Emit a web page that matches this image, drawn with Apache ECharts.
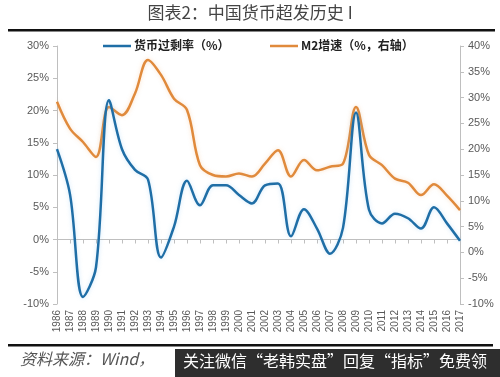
<!DOCTYPE html>
<html><head><meta charset="utf-8">
<script src="https://cdn.jsdelivr.net/npm/echarts@6/dist/echarts.min.js"></script>
<style>html,body{margin:0;padding:0;background:#fff}#c{width:500px;height:377px}</style>
</head><body><div id="c"></div>
<script>
const years = ['1986','1987','1988','1989','1990','1991','1992','1993','1994','1995','1996','1997','1998','1999','2000','2001','2002','2003','2004','2005','2006','2007','2008','2009','2010','2011','2012','2013','2014','2015','2016','2017'];
const excessMoney = [14.0,7.0,-8.9,-4.3,21.6,14.0,10.8,9.3,-2.8,2.0,9.1,5.3,8.4,8.4,6.9,5.6,8.4,8.7,0.5,4.7,1.7,-2.2,1.8,19.7,4.6,2.5,4.0,3.3,1.7,5.0,2.5,-0.2];
const m2Growth = [29.2,24.0,21.4,18.5,28.2,26.6,30.8,37.3,34.4,29.8,27.6,16.9,15.0,14.7,15.3,14.7,17.2,19.8,14.7,17.9,15.9,16.6,17.2,28.2,18.9,16.9,14.3,13.5,11.1,13.2,11.0,8.2];
const leftTicks = {min:-10, max:30, interval:5};
const rightTicks = {min:-10, max:40, interval:5};
const seriesNames = ['货币过剩率（%）','M2增速（%，右轴）'];

const chart = echarts.init(document.getElementById('c'), null, {renderer:'canvas'});
const axisLine = {show:true, lineStyle:{color:'#bfbfbf', width:1}};
const axisLabel = {color:'#595959', fontSize:11, fontFamily:'Liberation Sans, Arial', formatter:'{value}%'};
chart.setOption({
  animation:false,
  backgroundColor:'#fff',
  grid:{left:57, right:40, top:46, bottom:73, containLabel:false},
  legend:{show:false},
  xAxis:{type:'category', data:years, boundaryGap:false,
    axisLine:axisLine, axisTick:{show:true, interval:0, lineStyle:{color:'#bfbfbf'}, length:4},
    axisLabel:{interval:0, rotate:90, fontSize:10, color:'#595959', fontFamily:'Liberation Sans, Arial', margin:6},
    splitLine:{show:false}},
  yAxis:[
    {type:'value', min:leftTicks.min, max:leftTicks.max, interval:leftTicks.interval, position:'left',
     axisLine:axisLine, axisTick:{show:true, length:4, lineStyle:{color:'#bfbfbf'}}, axisLabel:Object.assign({margin:8}, axisLabel), splitLine:{show:false}},
    {type:'value', min:rightTicks.min, max:rightTicks.max, interval:rightTicks.interval, position:'right',
     axisLine:axisLine, axisTick:{show:true, length:4, lineStyle:{color:'#bfbfbf'}}, axisLabel:Object.assign({margin:8}, axisLabel), splitLine:{show:false}}
  ],
  series:[
    {name:seriesNames[1], type:'line', yAxisIndex:1, data:m2Growth, smooth:0.35, symbol:'none',
     lineStyle:{color:'#e08a3c', width:2.5, shadowColor:'rgba(240,170,100,0.35)', shadowBlur:4}},
    {name:seriesNames[0], type:'line', yAxisIndex:0, data:excessMoney, smooth:0.35, symbol:'none',
     lineStyle:{color:'#1f6ea6', width:2.5, shadowColor:'rgba(120,190,240,0.35)', shadowBlur:4}}
  ],
  graphic:[
    {type:'text', left:'center', top:4, style:{text:'图表2：中国货币超发历史 I', fontSize:17, fill:'#444', fontFamily:'Noto Sans CJK SC'}},
    {type:'rect', shape:{x:8, y:29, width:487, height:2.5}, style:{fill:'#111'}},
    {type:'line', shape:{x1:103, y1:46, x2:131, y2:46}, style:{stroke:'#1f6ea6', lineWidth:2.5}},
    {type:'text', x:134, y:39, style:{text:seriesNames[0], fontSize:12, fontWeight:'bold', fill:'#222', fontFamily:'Noto Sans CJK SC'}},
    {type:'line', shape:{x1:270, y1:46, x2:298, y2:46}, style:{stroke:'#e08a3c', lineWidth:2.5}},
    {type:'text', x:301, y:39, style:{text:seriesNames[1], fontSize:12, fontWeight:'bold', fill:'#222', fontFamily:'Noto Sans CJK SC'}},
    {type:'rect', shape:{x:8, y:344, width:485, height:2.5}, style:{fill:'#111'}},
    {type:'text', x:20, y:351, style:{text:'资料来源：Wind，', fontSize:16, fontStyle:'italic', fill:'#555', fontFamily:'Noto Sans CJK SC'}},
    {type:'rect', shape:{x:175, y:349, width:325, height:28}, style:{fill:'#2e2e2e'}},
    {type:'text', x:183, y:353, style:{text:'关注微信“老韩实盘”回复“指标”免费领', fontSize:16, fill:'#fff', fontFamily:'Noto Sans CJK SC'}}
  ]
});
</script></body></html>
